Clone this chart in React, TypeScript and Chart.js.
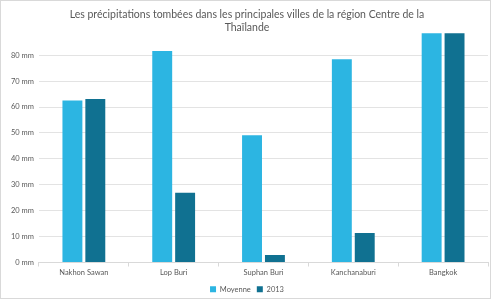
import React, { useEffect, useRef } from "react";
import { Chart, registerables } from "chart.js";

Chart.register(...registerables);

const villes = ["Nakhon Sawan", "Lop Buri", "Suphan Buri", "Kanchanaburi", "Bangkok"];
const moyenne = [62.5, 81.6, 49.1, 78.4, 88.5];
const annee2013 = [63.1, 26.9, 2.9, 11.4, 88.5];
const yTicks = [0, 10, 20, 30, 40, 50, 60, 70, 80];

const titre = [
  "Les précipitations tombées dans les principales villes de la région Centre de la",
  "Thaïlande",
];

const FONT = "Lato, 'Open Sans', sans-serif";
const TEXT = "#595959";

export default function App() {
  const ref = useRef<HTMLCanvasElement | null>(null);

  useEffect(() => {
    if (!ref.current) return;
    const chart = new Chart(ref.current, {
      type: "bar",
      data: {
        labels: villes,
        datasets: [
          {
            label: "Moyenne",
            data: moyenne,
            backgroundColor: "#2cb5e2",
            borderWidth: 0,
            categoryPercentage: 0.51,
            barPercentage: 0.87,
          },
          {
            label: "2013",
            data: annee2013,
            backgroundColor: "#107191",
            borderWidth: 0,
            categoryPercentage: 0.51,
            barPercentage: 0.87,
          },
        ],
      },
      options: {
        animation: false,
        responsive: false,
        layout: { padding: { left: 5, right: 2, top: 5, bottom: 0 } },
        plugins: {
          title: {
            display: true,
            text: titre,
            color: TEXT,
            font: { family: FONT, size: 10.5, weight: "normal", lineHeight: 1.25 },
            padding: { top: 2, bottom: -5 },
          },
          legend: {
            position: "bottom",
            labels: {
              color: TEXT,
              font: { family: FONT, size: 7.5 },
              boxWidth: 6,
              boxHeight: 6,
              padding: 6,
            },
          },
          tooltip: { enabled: false },
        },
        scales: {
          x: {
            grid: {
              offset: true,
              drawOnChartArea: false,
              color: "#d9d9d9",
              tickLength: 4,
            },
            border: { color: "#d9d9d9" },
            ticks: { color: TEXT, font: { family: FONT, size: 7.5 }, padding: 2 },
          },
          y: {
            min: 0,
            max: 90,
            afterBuildTicks: (axis: any) => {
              axis.ticks = yTicks.map((v) => ({ value: v }));
            },
            grid: { color: "#e3e3e3", drawTicks: false },
            border: { display: false },
            ticks: {
              color: TEXT,
              font: { family: FONT, size: 7.5 },
              padding: 5,
              callback: (v: any) => `${v} mm`,
            },
          },
        },
      },
    });
    return () => chart.destroy();
  }, []);

  return (
    <div
      style={{
        position: "fixed",
        left: 0,
        top: 0,
        width: 489,
        height: 297,
        border: "1px solid #d9d9d9",
        background: "#fff",
        overflow: "hidden",
      }}
    >
      <canvas ref={ref} width={489} height={302} style={{ display: "block" }} />
    </div>
  );
}
